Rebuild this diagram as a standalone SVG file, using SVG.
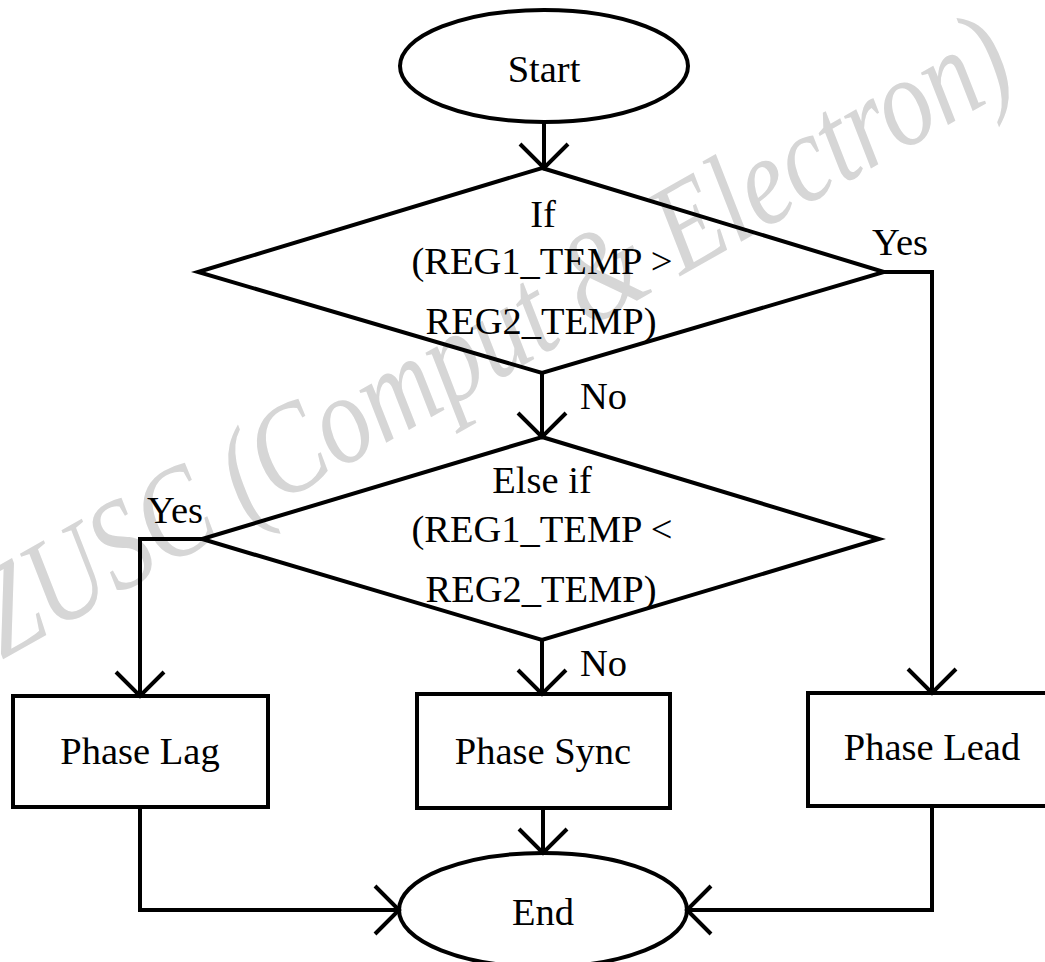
<svg xmlns="http://www.w3.org/2000/svg" width="1045" height="962" viewBox="0 0 1045 962">
  <style>
    .shape { fill: none; stroke: #000; stroke-width: 4; stroke-linejoin: miter; }
    .box { fill: #fff; stroke: #000; stroke-width: 4; }
    .wire { fill: none; stroke: #000; stroke-width: 4; }
    .lbl { font-family: "Liberation Serif", "Times New Roman", serif; font-size: 38.5px; fill: #000; text-anchor: middle; }
    .tag { font-family: "Liberation Serif", "Times New Roman", serif; font-size: 38.5px; fill: #000; }
    .mark { font-family: "Liberation Serif", "Times New Roman", serif; font-style: italic; font-size: 128px; fill: #d6d6d6; }
  </style>
  <defs>
    <marker id="vhead" markerUnits="userSpaceOnUse" markerWidth="60" markerHeight="60" refX="0" refY="0" viewBox="-30 -30 60 60" orient="auto" overflow="visible">
      <path d="M-24,-24 L0,0 L-24,24" fill="none" stroke="#000" stroke-width="4"/>
    </marker>
  </defs>

  <rect width="1045" height="962" fill="#fff"/>

  <!-- background watermark -->
  <text class="mark" transform="translate(2,660) rotate(-29.5)" textLength="1170" lengthAdjust="spacingAndGlyphs">ZUSC (Comput &amp; Electron)</text>

  <g id="start">
    <ellipse class="shape" cx="544" cy="66" rx="144" ry="56"/>
    <text class="lbl" x="544" y="82">Start</text>
  </g>

  <g id="cond1">
    <polygon class="shape" points="542,168 884,272 542,373 198,272"/>
    <text class="lbl" x="543" y="227">If</text>
    <text class="lbl" x="542" y="274">(REG1_TEMP &gt;</text>
    <text class="lbl" x="541" y="334">REG2_TEMP)</text>
  </g>

  <g id="cond2">
    <polygon class="shape" points="542,437 879,539 542,640 202,539"/>
    <text class="lbl" x="542" y="493">Else if</text>
    <text class="lbl" x="542" y="542">(REG1_TEMP &lt;</text>
    <text class="lbl" x="541" y="602">REG2_TEMP)</text>
  </g>

  <g id="lag">
    <rect class="box" x="13" y="696" width="255" height="111"/>
    <text class="lbl" x="140" y="764">Phase Lag</text>
  </g>

  <g id="sync">
    <rect class="box" x="417" y="694" width="253" height="114"/>
    <text class="lbl" x="543" y="764">Phase Sync</text>
  </g>

  <g id="lead">
    <rect class="box" x="808" y="693" width="250" height="113"/>
    <text class="lbl" x="932" y="760">Phase Lead</text>
  </g>

  <g id="end">
    <ellipse class="shape" cx="543" cy="910" rx="144" ry="57"/>
    <text class="lbl" x="543" y="925">End</text>
  </g>

  <g id="connectors">
    <path class="wire" d="M544,122 L544,168" marker-end="url(#vhead)"/>
    <path class="wire" d="M542,373 L542,437" marker-end="url(#vhead)"/>
    <path class="wire" d="M884,272 L932,272 L932,693" marker-end="url(#vhead)"/>
    <path class="wire" d="M202,539 L140,539 L140,696" marker-end="url(#vhead)"/>
    <path class="wire" d="M542,640 L542,694" marker-end="url(#vhead)"/>
    <path class="wire" d="M543,808 L543,853" marker-end="url(#vhead)"/>
    <path class="wire" d="M140,807 L140,910 L399,910" marker-end="url(#vhead)"/>
    <path class="wire" d="M932,806 L932,910 L687,910" marker-end="url(#vhead)"/>
    <text class="tag" x="872" y="255">Yes</text>
    <text class="tag" x="580" y="409">No</text>
    <text class="tag" x="147" y="523">Yes</text>
    <text class="tag" x="580" y="676">No</text>
  </g>
</svg>
